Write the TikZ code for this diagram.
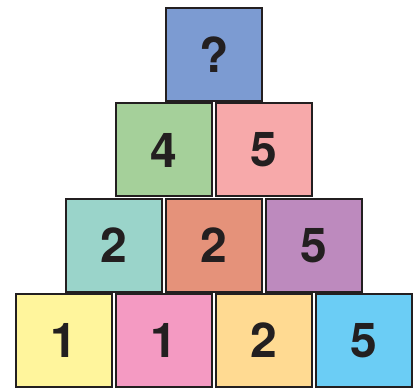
\documentclass[tikz,border=0pt]{standalone}
\usepackage{fontspec}
\setmainfont{TeX Gyre Heros}
\usepackage{tikz}

\definecolor{cTop}{HTML}{7C9BD2}
\definecolor{cGreen}{HTML}{A5D09A}
\definecolor{cRose}{HTML}{F7A9AA}
\definecolor{cTeal}{HTML}{9AD4CA}
\definecolor{cSalmon}{HTML}{E5927A}
\definecolor{cPurple}{HTML}{BD8ABE}
\definecolor{cYellow}{HTML}{FFF59C}
\definecolor{cPink}{HTML}{F49AC2}
\definecolor{cPeach}{HTML}{FFDA92}
\definecolor{cSky}{HTML}{6BCDF5}
\definecolor{edge}{HTML}{231F20}

\begin{document}
\begin{tikzpicture}[x=1pt,y=1pt,
  block/.style={draw=edge,line width=2pt,minimum width=96pt,minimum height=93pt,
    inner sep=0pt,text=edge,font=\fontsize{48}{48}\selectfont\bfseries}]
\useasboundingbox (0,0) rectangle (413,390);
% bottom row
\node[block,fill=cYellow] (b1) at (64,49.5) {1};
\node[block,fill=cPink] (b2) at (164,49.5) {1};
\node[block,fill=cPeach] (b3) at (264,49.5) {2};
\node[block,fill=cSky] (b4) at (364,49.5) {5};
% third row
\node[block,fill=cTeal] (c1) at (114,144.5) {2};
\node[block,fill=cSalmon] (c2) at (214,144.5) {2};
\node[block,fill=cPurple] (c3) at (314,144.5) {5};
% second row
\node[block,fill=cGreen] (d1) at (164,240) {4};
\node[block,fill=cRose] (d2) at (264,240) {5};
% top
\node[block,fill=cTop] (top) at (214,335) {?};
\end{tikzpicture}
\end{document}
